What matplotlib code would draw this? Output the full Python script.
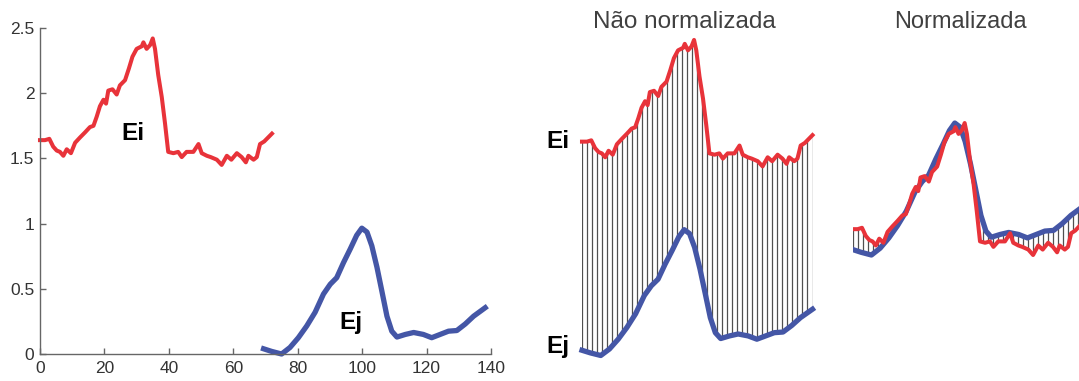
import numpy as np
import matplotlib
matplotlib.use("Agg")
import matplotlib.pyplot as plt

plt.rcParams['font.family'] = ['Liberation Sans', 'DejaVu Sans']

# Series Ei (red) and Ej (blue)
ei_x = [0, 1.55, 2.9, 4.1, 5.2, 6.2, 7.25, 8.3, 9.6, 10.9, 12.4, 14.0, 15.5, 16.6,
        17.6, 18.6, 19.7, 20.5, 21.2, 22.5, 23.8, 24.8, 26.4, 27.6, 28.7, 30.0, 31.6,
        32.1, 33.1, 34.2, 35.0, 35.7, 36.7, 37.8, 38.8, 39.8, 41.4, 42.9, 44.0, 45.5,
        47.6, 49.2, 50.2, 51.8, 53.0, 54.9, 56.4, 58.0, 59.4, 61.1, 62.6, 63.9, 64.7,
        66.3, 67.3, 68.3, 69.6, 70.4, 72.0]
ei_y = [1.64, 1.64, 1.65, 1.59, 1.56, 1.55, 1.52, 1.57, 1.54, 1.62, 1.66, 1.70, 1.74,
        1.75, 1.82, 1.90, 1.95, 1.92, 2.02, 2.03, 1.99, 2.06, 2.10, 2.19, 2.28, 2.34,
        2.36, 2.39, 2.34, 2.37, 2.42, 2.34, 2.14, 1.97, 1.77, 1.55, 1.54, 1.55, 1.51,
        1.55, 1.55, 1.61, 1.54, 1.52, 1.51, 1.49, 1.45, 1.52, 1.49, 1.54, 1.51, 1.47,
        1.52, 1.49, 1.51, 1.61, 1.63, 1.65, 1.69]

ej_x = [69.4, 71.9, 75.0, 77.6, 80.2, 82.8, 85.4, 88.0, 90.1, 92.1, 94.2, 96.3, 98.3,
        99.9, 101.5, 103.0, 104.6, 106.1, 107.7, 109.2, 110.8, 113.4, 116.0, 119.0,
        121.6, 124.2, 126.8, 129.4, 132.0, 134.6, 138.2]
ej_y = [0.04, 0.02, 0.0, 0.05, 0.125, 0.215, 0.32, 0.46, 0.535, 0.585, 0.70, 0.805,
        0.91, 0.965, 0.935, 0.83, 0.665, 0.485, 0.29, 0.175, 0.13, 0.15, 0.165, 0.15,
        0.125, 0.15, 0.175, 0.18, 0.23, 0.29, 0.355]

x_ticks = [0, 20, 40, 60, 80, 100, 120, 140]
y_ticks = [0, 0.5, 1, 1.5, 2, 2.5]
y_ticklabels = ['0', '0.5', '1', '1.5', '2', '2.5']
titles = ['Não normalizada', 'Normalizada']
n_links = 47

RED = '#E8333A'
BLUE = '#4456A6'
LINK = '#505050'
TXT = '#404040'

W, H = 1079, 381
fig = plt.figure(figsize=(W / 100, H / 100), dpi=100)


def box(x0, x1, ytop, ybot):
    return [x0 / W, (H - ybot) / H, (x1 - x0) / W, (ybot - ytop) / H]


ei_x = np.asarray(ei_x, float)
ei_y = np.asarray(ei_y, float)
ej_x = np.asarray(ej_x, float)
ej_y = np.asarray(ej_y, float)

# ---- left: raw series on a shared time axis ----
ax = fig.add_axes(box(40, 491, 28, 354))
ax.plot(ei_x, ei_y, color=RED, lw=2.9, solid_joinstyle='round', clip_on=False)
ax.plot(ej_x, ej_y, color=BLUE, lw=3.8, solid_joinstyle='round', clip_on=False)
ax.set_xlim(0, 140)
ax.set_ylim(0, 2.5)
ax.set_xticks(x_ticks)
ax.set_yticks(y_ticks)
ax.set_yticklabels(y_ticklabels)
for s in ('top', 'right'):
    ax.spines[s].set_visible(False)
for s in ('left', 'bottom'):
    ax.spines[s].set_color('#666666')
    ax.spines[s].set_linewidth(1.0)
ax.tick_params(direction='in', length=4, width=1.0, color='#666666',
               labelcolor='#333333', labelsize=12.5)
ax.tick_params(axis='x', pad=5)
ax.tick_params(axis='y', pad=4)
ax.text(29.0, 1.638, 'Ei', ha='center', va='baseline', fontsize=17.5,
        fontweight='bold', color='black')
ax.text(96.5, 0.19, 'Ej', ha='center', va='baseline', fontsize=17.5,
        fontweight='bold', color='black')

# both series mapped to a common [0, 1] index
ti = (ei_x - ei_x[0]) / (ei_x[-1] - ei_x[0])
tj = (ej_x - ej_x[0]) / (ej_x[-1] - ej_x[0])
t_links = np.linspace(0, 1, n_links)

# ---- middle: raw amplitudes, point-to-point links ----
am = fig.add_axes(box(582, 812.5, 29.5, 355.5))
am.vlines(t_links, np.interp(t_links, tj, ej_y), np.interp(t_links, ti, ei_y),
          color=LINK, lw=0.9, zorder=1)
am.plot(ti, ei_y, color=RED, lw=2.9, solid_joinstyle='round', zorder=3, clip_on=False)
am.plot(tj, ej_y, color=BLUE, lw=3.8, solid_joinstyle='round', zorder=3, clip_on=False)
am.set_xlim(0, 1)
am.set_ylim(0, 2.5)
am.axis('off')

# ---- right: min-max normalised series ----
zi = (ei_y - ei_y.min()) / (ei_y.max() - ei_y.min())
zj = (ej_y - ej_y.min()) / (ej_y.max() - ej_y.min())
ar = fig.add_axes(box(852.7, 1083, 28, 354))
ar.vlines(t_links, np.interp(t_links, tj, zj), np.interp(t_links, ti, zi),
          color=LINK, lw=0.9, zorder=1)
ar.plot(tj, zj, color=BLUE, lw=3.8, solid_joinstyle='round', zorder=2)
ar.plot(ti, zi, color=RED, lw=2.9, solid_joinstyle='round', zorder=3)
ar.set_xlim(0, 1)
ar.set_ylim(-0.75, 1.72)
ar.axis('off')

# labels and titles
fig.text(546 / W, (H - 148.3) / H, 'Ei', ha='left', va='baseline', fontsize=17.5,
         fontweight='bold', color='black')
fig.text(546 / W, (H - 353) / H, 'Ej', ha='left', va='baseline', fontsize=17.5,
         fontweight='bold', color='black')
fig.text(684 / W, (H - 28.3) / H, titles[0], ha='center', va='baseline',
         fontsize=17.5, color=TXT)
fig.text(960 / W, (H - 28.3) / H, titles[1], ha='center', va='baseline',
         fontsize=17, color=TXT)

fig.savefig('out.png', dpi=100)
